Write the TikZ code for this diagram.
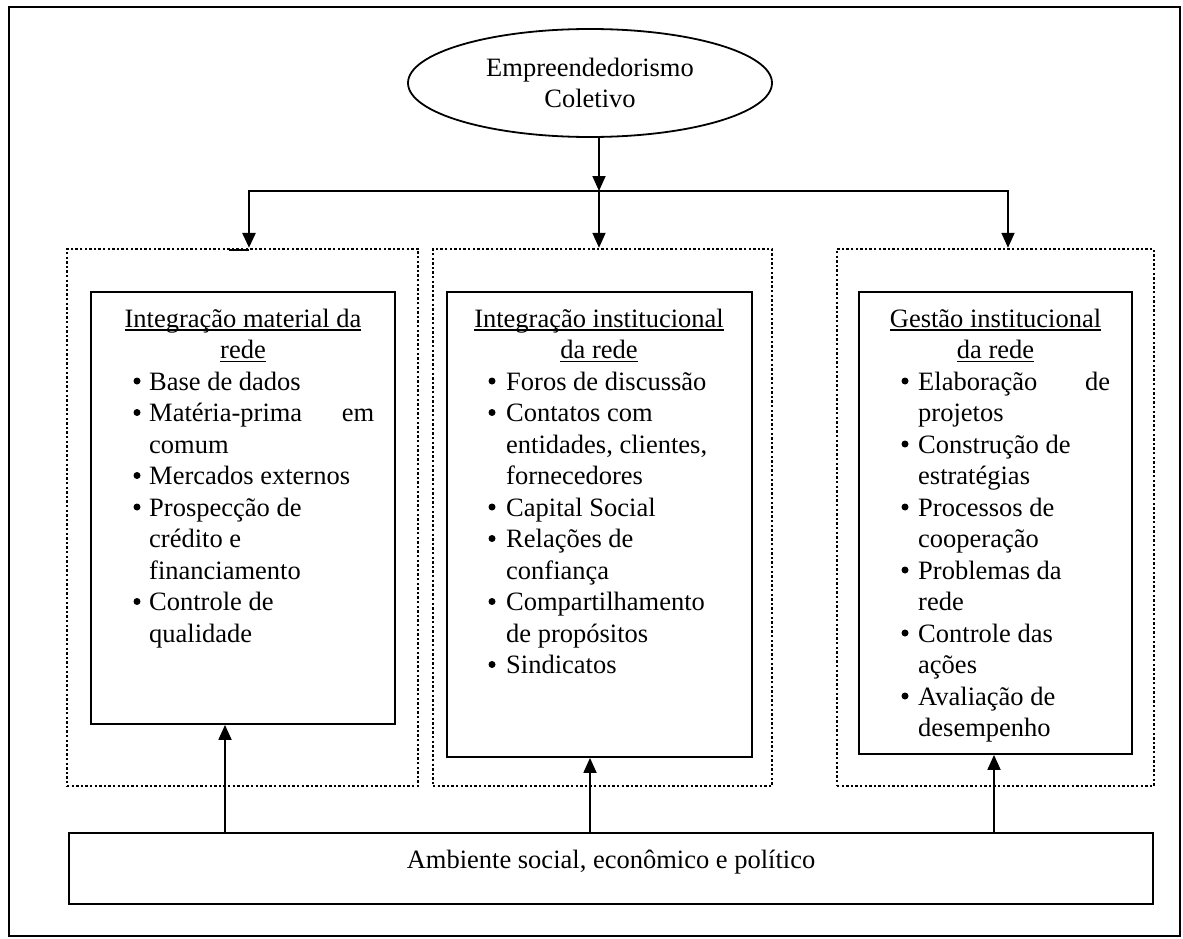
\documentclass[tikz,border=0pt]{standalone}
\usepackage{fontspec}
\setmainfont{Liberation Serif}
\usetikzlibrary{arrows.meta,shapes.geometric}
\newcommand\myul[1]{\setbox0=\hbox{#1}\rlap{\rule[-3.5pt]{\wd0}{1.5pt}}\box0}
\newcommand\ttl[4]{\node[txt,anchor=base] (#1) at (#2,{327+31.5*(#3)}) {\myul{#4}};}
\newcommand\itm[5]{\node[bul] (#1b) at (#2,{318+31.5*(#4)}) {};\node[txt,anchor=base west] (#1) at (#3,{327+31.5*(#4)}) {#5};}
\newcommand\cnt[4]{\node[txt,anchor=base west] (#1) at (#2,{327+31.5*(#3)}) {#4};}
\begin{document}
\begin{tikzpicture}[x=1pt,y=-1pt,
  txt/.style={inner sep=0pt, font=\fontsize{26.5}{31.5}\selectfont},
  bul/.style={circle, fill, inner sep=0pt, minimum size=7pt},
  sbox/.style={draw, line width=1.8pt, inner sep=0pt},
  dotbox/.style={draw, line width=2.4pt, dash pattern=on 2.4pt off 2.2pt, inner sep=0pt},
  arr/.style={line width=1.8pt, -{Triangle[width=13pt,length=15pt]}}]
\useasboundingbox (0,0) rectangle (1183,939);
\draw[line width=2.2pt] (9,7) rectangle (1180,936);

% top ellipse
\node[draw, ellipse, line width=1.8pt, minimum width=364pt, minimum height=108pt, txt, align=center] (E) at (590,83) {Empreendedorismo\\Coletivo};

% boxes
\node[dotbox, minimum width=351pt, minimum height=537pt] (DL) at (242.5,517.5) {};
\node[dotbox, minimum width=339pt, minimum height=537pt] (DM) at (602.5,517.5) {};
\node[dotbox, minimum width=317pt, minimum height=537pt] (DR) at (995.5,517.5) {};
\node[sbox, minimum width=304pt, minimum height=432pt] (IL) at (243,508) {};
\node[sbox, minimum width=305pt, minimum height=465pt] (IM) at (599.5,524.5) {};
\node[sbox, minimum width=273pt, minimum height=462pt] (IR) at (995.5,523) {};
\node[sbox, minimum width=1084pt, minimum height=71pt] (B) at (611,868.5) {};
\node[txt, anchor=base] (Bt) at (611,868) {Ambiente social, econômico e político};

% connectors
\coordinate (J) at (599,191);
\coordinate (HL) at (249,191);
\coordinate (HR) at (1008,191);
\coordinate (S) at (229,250);
\draw[arr] (E.south -| J) -- (J);
\draw[line width=1.8pt, line cap=rect] (HL) -- (HR);
\draw[arr, line width=2.8pt] (HL) -- (HL |- DL.north);
\draw[arr] (J) -- (J |- DM.north);
\draw[arr] (HR) -- (HR |- DR.north);
\draw[line width=2.2pt] (S) -- (S -| HL);
\coordinate (ua) at (225,833);
\coordinate (ub) at (590,833);
\coordinate (uc) at (994,833);
\draw[arr] (ua |- B.north) -- (ua |- IL.south);
\draw[arr] (ub |- B.north) -- (ub |- IM.south);
\draw[arr] (uc |- B.north) -- (uc |- IR.south);

% left box text
\ttl{a0}{243}{0}{Integração material da}
\ttl{a1}{243}{1}{rede}
\itm{a2}{137}{149}{2}{Base de dados}
\itm{a3}{137}{149}{3}{\hbox to 225pt{Matéria-prima\hfill em}}
\cnt{a4}{149}{4}{comum}
\itm{a5}{137}{149}{5}{Mercados externos}
\itm{a6}{137}{149}{6}{Prospecção de}
\cnt{a7}{149}{7}{crédito e}
\cnt{a8}{149}{8}{financiamento}
\itm{a9}{137}{149}{9}{Controle de}
\cnt{a10}{149}{10}{qualidade}

% middle box text
\ttl{m0}{599}{0}{Integração institucional}
\ttl{m1}{599}{1}{da rede}
\itm{m2}{492}{506}{2}{Foros de discussão}
\itm{m3}{492}{506}{3}{Contatos com}
\cnt{m4}{506}{4}{entidades, clientes,}
\cnt{m5}{506}{5}{fornecedores}
\itm{m6}{492}{506}{6}{Capital Social}
\itm{m7}{492}{506}{7}{Relações de}
\cnt{m8}{506}{8}{confiança}
\itm{m9}{492}{506}{9}{Compartilhamento}
\cnt{m10}{506}{10}{de propósitos}
\itm{m11}{492}{506}{11}{Sindicatos}

% right box text
\ttl{r0}{995.5}{0}{Gestão institucional}
\ttl{r1}{995.5}{1}{da rede}
\itm{r2}{905}{918}{2}{\hbox to 192pt{Elaboração\hfill de}}
\cnt{r3}{918}{3}{projetos}
\itm{r4}{905}{918}{4}{Construção de}
\cnt{r5}{918}{5}{estratégias}
\itm{r6}{905}{918}{6}{Processos de}
\cnt{r7}{918}{7}{cooperação}
\itm{r8}{905}{918}{8}{Problemas da}
\cnt{r9}{918}{9}{rede}
\itm{r10}{905}{918}{10}{Controle das}
\cnt{r11}{918}{11}{ações}
\itm{r12}{905}{918}{12}{Avaliação de}
\cnt{r13}{918}{13}{desempenho}
\end{tikzpicture}
\end{document}
